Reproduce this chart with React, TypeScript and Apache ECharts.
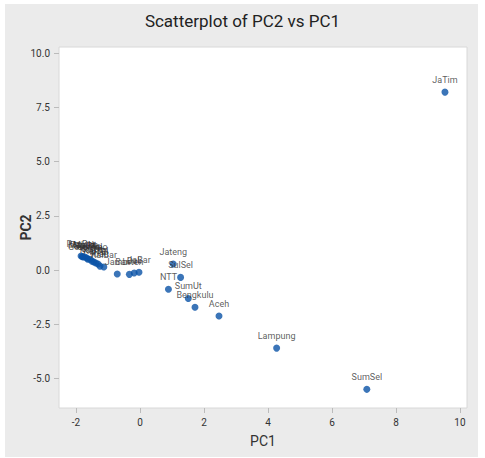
import React, { useEffect, useRef } from "react";
import * as echarts from "echarts";

const names = [
  "JaTim", "SumSel", "Lampung", "Aceh", "Bengkulu", "SumUt", "NTT", "SulSel", "Jateng",
  "JaBar", "Bali", "Banten", "Jambi", "KalBar",
  "Riau", "NTB", "KalSel", "KalTim", "SulUt", "SulTra", "Gorontalo", "SulBar", "MalUt", "Maluku", "PapBar", "Papua",
];
const pc1 = [
  9.53, 7.09, 4.27, 2.47, 1.72, 1.51, 0.89, 1.27, 1.04,
  -0.03, -0.18, -0.33, -0.71, -1.13,
  -1.25, -1.31, -1.38, -1.44, -1.5, -1.56, -1.63, -1.66, -1.72, -1.78, -1.84, -1.8,
];
const pc2 = [
  8.2, -5.5, -3.6, -2.12, -1.72, -1.31, -0.89, -0.34, 0.28,
  -0.1, -0.14, -0.2, -0.18, 0.14,
  0.18, 0.28, 0.32, 0.37, 0.41, 0.5, 0.5, 0.55, 0.6, 0.6, 0.65, 0.62,
];
const xTicks = [-2, 0, 2, 4, 6, 8, 10];
const yTicks = [-5, -2.5, 0, 2.5, 5, 7.5, 10];

const FONT = "Roboto, 'Noto Sans', sans-serif";

export default function App() {
  const ref = useRef<HTMLDivElement>(null);
  useEffect(() => {
    if (!ref.current) return;
    const chart = echarts.init(ref.current, undefined, { renderer: "svg" });
    const data = names.map((n, i) => ({ name: n, value: [pc1[i], pc2[i]] }));
    chart.setOption({
      animation: false,
      title: {
        text: "Scatterplot of PC2 vs PC1",
        left: "center",
        top: 7,
        textStyle: { fontFamily: FONT, fontSize: 17, fontWeight: "normal", color: "#222" },
      },
      grid: {
        left: 59,
        right: 18,
        top: 47,
        bottom: 50,
        show: true,
        backgroundColor: "#ffffff",
        borderColor: "#d8d8d8",
        borderWidth: 1,
      },
      xAxis: {
        type: "value",
        min: -2.53,
        max: 10.22,
        name: "PC1",
        nameLocation: "middle",
        nameGap: 26,
        nameTextStyle: { fontFamily: FONT, fontSize: 14, color: "#333" },
        axisLine: { show: false, onZero: false },
        axisTick: { show: true, length: 5, customValues: xTicks, lineStyle: { color: "#bbb" } },
        splitLine: { show: false },
        axisLabel: {
          customValues: xTicks,
          fontFamily: FONT,
          fontSize: 10,
          color: "#333",
          margin: 9,
          formatter: (v: number) => String(v),
        },
      },
      yAxis: {
        type: "value",
        min: -6.36,
        max: 10.28,
        name: "PC2",
        nameLocation: "middle",
        nameGap: 26,
        nameMoveOverlap: false,
        nameTextStyle: { fontFamily: FONT, fontSize: 14, color: "#333", fontWeight: "bold" },
        axisLine: { show: false, onZero: false },
        axisTick: { show: true, length: 5, customValues: yTicks, lineStyle: { color: "#bbb" } },
        splitLine: { show: false },
        axisLabel: {
          customValues: yTicks,
          fontFamily: FONT,
          fontSize: 10,
          color: "#333",
          margin: 9,
          formatter: (v: number) => v.toFixed(1),
        },
      },
      series: [
        {
          type: "scatter",
          symbolSize: 7,
          itemStyle: { color: "#0a52a6" },
          data,
          label: {
            show: true,
            position: "top",
            distance: 4,
            formatter: "{b}",
            fontFamily: FONT,
            fontSize: 9,
            color: "#333",
          },
        },
      ],
    });
    return () => chart.dispose();
  }, []);
  return (
    <div style={{ position: "absolute", left: 0, top: 0, width: 485, height: 458, background: "#fff" }}>
      <div style={{ position: "absolute", left: 5, top: 4, width: 473, height: 453, background: "#ebebeb" }} />
      <div ref={ref} style={{ position: "absolute", left: 0, top: 0, width: 485, height: 458 }} />
    </div>
  );
}
